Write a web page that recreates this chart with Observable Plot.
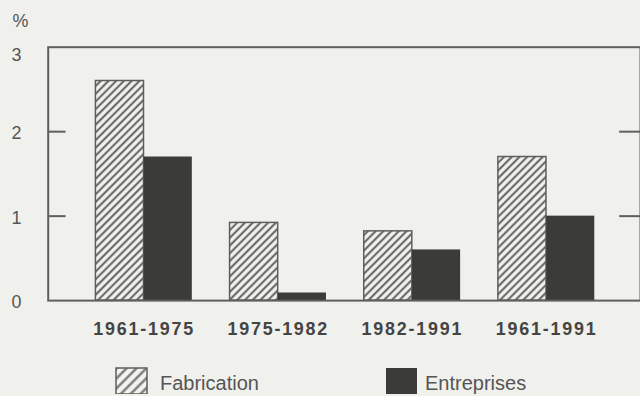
<!DOCTYPE html>
<html><head><meta charset="utf-8">
<script src="https://cdn.jsdelivr.net/npm/d3@7"></script>
<script src="https://cdn.jsdelivr.net/npm/@observablehq/plot@0.6"></script>
<style>
html,body{margin:0;padding:0;background:#f0f0ec;overflow:hidden;width:640px;height:396px;}
#chart svg{display:block;}
#chart g[aria-label="x-axis tick label"] text{letter-spacing:1.8px;}
#legend{display:block;}
</style></head><body>
<div id="chart"></div>
<svg id="legend" width="640" height="30"></svg>
<script>
const groups = ["1961-1975", "1975-1982", "1982-1991", "1961-1991"];
const fabrication = [2.6, 0.92, 0.82, 1.7];
const entreprises = [1.7, 0.09, 0.6, 1.0];
const yTicks = [0, 1, 2, 3];
const seriesNames = ["Fabrication", "Entreprises"];

const data = groups.flatMap((g, i) => [
  {group: g, series: seriesNames[0], value: fabrication[i]},
  {group: g, series: seriesNames[1], value: entreprises[i]}
]);

const font = "'Liberation Sans', Arial, Helvetica, sans-serif";
const W = 644, mL = 48, mR = 0;
const frameW = W - mL - mR;
const xRange = [77.5, 617.5], padIn = 0.28, padOut = 0.14;
const step = (xRange[1] - xRange[0]) / (groups.length - padIn + 2 * padOut);
const bw = step * (1 - padIn);

function hatchDefs() {
  const defs = d3.create("svg:defs");
  const p = defs.append("pattern").attr("id", "hatch").attr("patternUnits", "userSpaceOnUse")
    .attr("width", 5.5).attr("height", 5.5).attr("patternTransform", "rotate(45)");
  p.append("rect").attr("width", 5.5).attr("height", 5.5).attr("fill", "#f3f3f0");
  p.append("line").attr("x1", 2.75).attr("x2", 2.75).attr("y1", 0).attr("y2", 5.5)
    .attr("stroke", "#6a6a67").attr("stroke-width", 2.2);
  return defs.node();
}

const chart = Plot.plot({
  width: W, height: 366,
  marginLeft: mL, marginRight: mR, marginTop: 47, marginBottom: 64,
  style: {background: "transparent", fontFamily: font},
  x: {domain: groups, range: xRange, paddingInner: padIn, paddingOuter: padOut, axis: null},
  y: {domain: [0, 3], axis: null},
  marks: [
    hatchDefs,
    Plot.barY(data.filter(d => d.series === seriesNames[0]), {
      x: "group", y: "value", fill: "url(#hatch)", stroke: "#5e5e5b", strokeWidth: 1.5,
      insetRight: bw / 2
    }),
    Plot.barY(data.filter(d => d.series === seriesNames[1]), {
      x: "group", y: "value", fill: "#3b3b39", insetLeft: bw / 2
    }),
    Plot.frame({stroke: "#5e5e5b", strokeWidth: 2}),
    Plot.ruleY([1, 2], {stroke: "#5e5e5b", strokeWidth: 2, insetRight: frameW - 18}),
    Plot.ruleY([1, 2], {stroke: "#5e5e5b", strokeWidth: 2, insetLeft: frameW - 21}),
    Plot.axisY({ticks: yTicks.filter(t => t < 3), tickFormat: d3.format("d"), tickSize: 0, tickPadding: 27, fontSize: 18, fill: "#555", dy: 2, label: null}),
    Plot.axisY({ticks: yTicks.filter(t => t === 3), tickFormat: d3.format("d"), tickSize: 0, tickPadding: 27, fontSize: 18, fill: "#555", dy: 8, label: null}),
    Plot.axisX({tickSize: 0, tickPadding: 22, fontSize: 18, fontWeight: "bold", fill: "#444", label: null}),
    Plot.text(["%"], {frameAnchor: "top-left", dx: -36, dy: -33, textAnchor: "start", fontSize: 18, fill: "#555"})
  ]
});
document.getElementById("chart").append(chart);

// Legend
const lg = d3.select("#legend");
const ld = lg.append("defs").append("pattern").attr("id", "hatchL").attr("patternUnits", "userSpaceOnUse")
  .attr("width", 7).attr("height", 7).attr("patternTransform", "rotate(45)");
ld.append("rect").attr("width", 7).attr("height", 7).attr("fill", "#f3f3f0");
ld.append("line").attr("x1", 3.5).attr("x2", 3.5).attr("y1", 0).attr("y2", 7).attr("stroke", "#6e6e6b").attr("stroke-width", 2.2);
const items = [
  {name: seriesNames[0], fill: "url(#hatchL)", stroke: "#5e5e5b", x: 116},
  {name: seriesNames[1], fill: "#3b3b39", stroke: "none", x: 386}
];
const g = lg.selectAll("g").data(items).join("g").attr("transform", d => `translate(${d.x},0)`);
g.append("rect").attr("x", 0).attr("y", 4).attr("width", 31).attr("height", 26)
  .attr("fill", d => d.fill).attr("stroke", d => d.stroke).attr("stroke-width", 1.5);
g.append("text").attr("x", d => d.x === 116 ? 44 : 39).attr("y", 26).text(d => d.name)
  .attr("font-family", font).attr("font-size", 20).attr("fill", "#555");
</script>
</body></html>
